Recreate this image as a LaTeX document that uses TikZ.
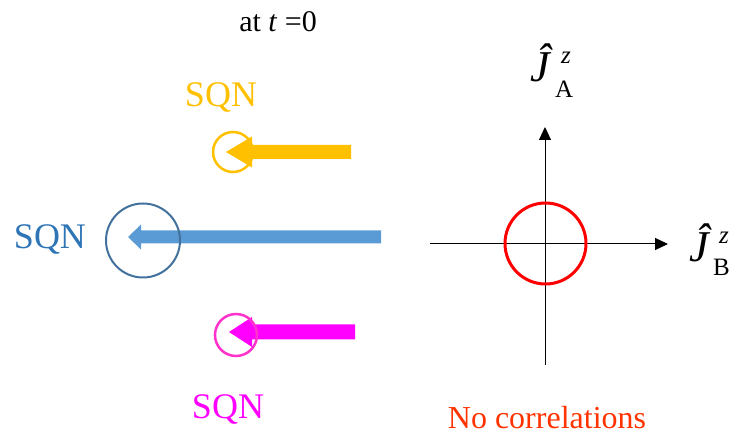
\documentclass[tikz,border=0pt]{standalone}
\usepackage{fontspec}
\setmainfont{Liberation Serif}
\usetikzlibrary{arrows.meta}
\definecolor{yel}{RGB}{255,192,0}
\definecolor{bluA}{RGB}{91,155,213}
\definecolor{bluC}{RGB}{65,113,156}
\definecolor{bluT}{RGB}{46,117,182}
\definecolor{mag}{RGB}{255,0,255}
\definecolor{magC}{RGB}{255,51,204}
\definecolor{ored}{RGB}{255,51,0}
\tikzset{
  lbl/.style={inner sep=0pt, font=\fontsize{36}{36}\selectfont},
  axis/.style={line width=1pt, -{Triangle[length=13pt,width=12pt]}},
  jlbl/.style={inner sep=0pt, font=\fontsize{44}{44}\selectfont\itshape},
  jidx/.style={inner sep=0pt, font=\fontsize{25}{25}\selectfont},
}
\begin{document}
\begin{tikzpicture}[x=1pt,y=-1pt]
\useasboundingbox (0,0) rectangle (731,435);
% title
\node[lbl, font=\fontsize{30}{30}\selectfont] (title) at (278,22) {at \textit{t} =0};
% yellow
\fill[yel] (226,152) -- (252,136.5) -- (252,145) -- (351,145) -- (351,159) -- (252,159) -- (252,167.5) -- cycle;
\draw[yel, line width=2.5pt] (233,152) circle (20);
\node[lbl, text=yel] (sqnY) at (221,98) {SQN};
% blue
\fill[bluA] (128,237) -- (141,224.5) -- (141,230.5) -- (381,230.5) -- (381,243.5) -- (141,243.5) -- (141,249.5) -- cycle;
\draw[bluC, line width=2pt] (143,240.5) circle (37);
\node[lbl, text=bluT] (sqnB) at (50,240) {SQN};
% magenta
\fill[mag] (229,332) -- (252,317) -- (252,324.5) -- (355,324.5) -- (355,339.5) -- (252,339.5) -- (252,347) -- cycle;
\draw[magC, line width=2.5pt] (236,335) circle (21);
\node[lbl, text=mag] (sqnM) at (228,410) {SQN};
% axes
\coordinate (vb) at (545,365);
\coordinate (vt) at (545,127);
\coordinate (hl) at (430,244);
\coordinate (hr) at (668,244);
\draw[axis] (vb) -- (vt);
\draw[axis] (hl) -- (hr);
\draw[red, line width=3pt] (545.5,243.5) circle (40.5);
% labels
\node[jlbl, anchor=base] (JA) at (540,82) {Ĵ};
\node[jidx, anchor=base west, font=\fontsize{25}{25}\selectfont\itshape] (zA) at (561,64) {z};
\node[jidx, anchor=base west] (sA) at (555,98) {A};
\node[jlbl, anchor=base] (JB) at (699,262) {Ĵ};
\node[jidx, anchor=base west, font=\fontsize{25}{25}\selectfont\itshape] (zB) at (719,244) {z};
\node[jidx, anchor=base west] (sB) at (713,276) {B};
\node[lbl, text=ored, font=\fontsize{32}{32}\selectfont] (nc) at (547,418) {No correlations};
\end{tikzpicture}
\end{document}
